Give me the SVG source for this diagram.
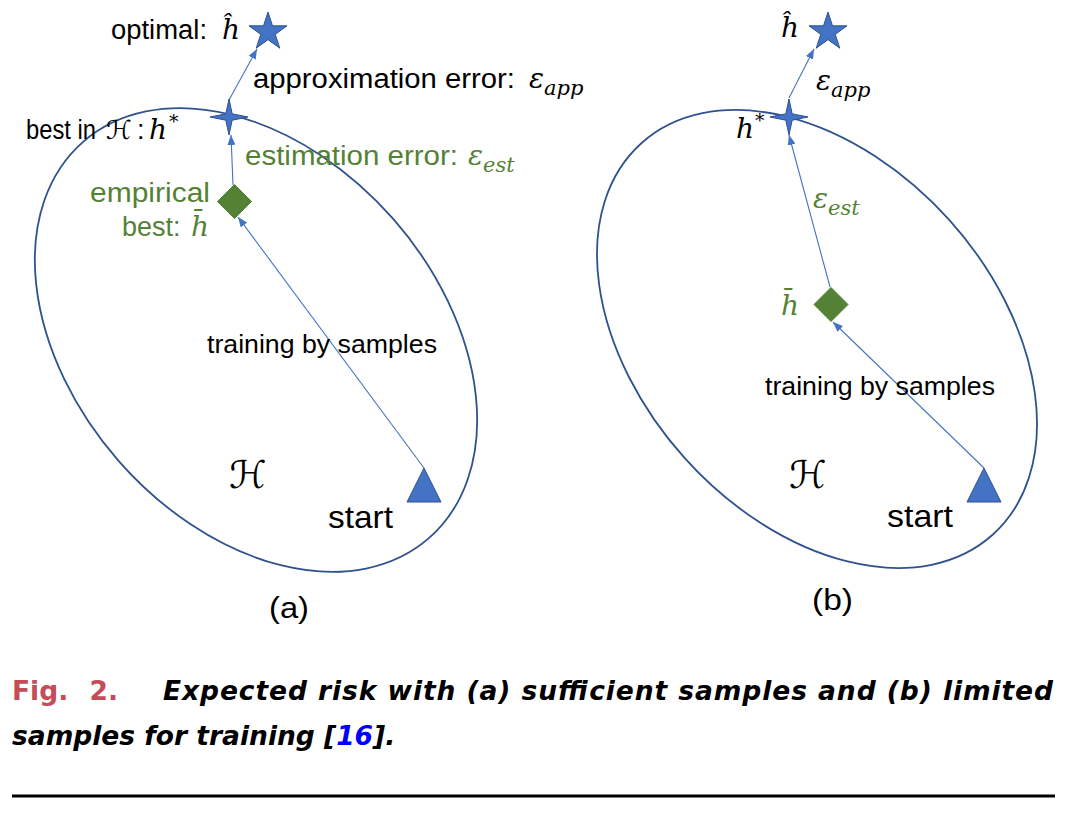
<svg xmlns="http://www.w3.org/2000/svg" width="1080" height="818" viewBox="0 0 1080 818">
<style>
.lbl{font-family:"Liberation Sans",Arial,sans-serif;font-size:27px;fill:#000}
.grn{fill:#548235}
.math{font-family:"DejaVu Serif","Liberation Serif",serif;font-style:italic;font-size:28px}
.sub{font-size:21px}
.scr{font-family:"DejaVu Serif","DejaVu Sans",serif;font-style:italic}
.train{font-family:"Liberation Sans",Arial,sans-serif;font-size:25.5px;fill:#000}
.start{font-family:"Liberation Sans",Arial,sans-serif;font-size:32px;fill:#000}
.cap{font-family:"DejaVu Sans","Verdana",sans-serif;font-weight:bold;font-size:26.5px}
.capi{font-style:italic;fill:#000}
.ell{fill:none;stroke:#2F528F;stroke-width:1.8}
.conn{stroke:#4472C4;stroke-width:1.1;fill:none;marker-end:url(#ah)}
.blue{fill:#4472C4;stroke:#2F528F;stroke-width:1}
.dia{fill:#548235;stroke:#507e32;stroke-width:1}
</style>
<defs>
<marker id="ah" viewBox="0 0 10 8" refX="10" refY="4" markerWidth="10" markerHeight="8" markerUnits="userSpaceOnUse" orient="auto">
<path d="M0,0 L10,4 L0,8 Z" fill="#4472C4"/>
</marker>
<path id="star5" d="M0,-20 L4.49,-6.18 L19.02,-6.18 L7.27,2.36 L11.76,16.18 L0,7.64 L-11.76,16.18 L-7.27,2.36 L-19.02,-6.18 L-4.49,-6.18 Z"/>
<path id="star4" d="M0,-18 L3.2,-3.2 L19,0 L3.2,3.2 L0,18 L-3.2,3.2 L-19,0 L-3.2,-3.2 Z"/>
<path id="dmd" d="M0,-17 L17,0 L0,17 L-17,0 Z"/>
<path id="tri" d="M0,0 L17,34 L-17,34 Z"/>
</defs>
<rect width="1080" height="818" fill="#fff"/>

<!-- panel a -->
<g id="space-a"><ellipse class="ell" cx="256" cy="340" rx="263" ry="183" transform="rotate(48.9 256 340)"/>
<text class="scr" x="229" y="488" style="font-size:38px">ℋ</text></g>

<g id="connectors-a">
<line class="conn" x1="229" y1="100" x2="257" y2="49"/>
<line class="conn" x1="233" y1="185" x2="231" y2="135"/>
<line class="conn" x1="424" y1="468" x2="238" y2="217"/>
</g>

<g id="optimal-a"><use href="#star5" class="blue" transform="translate(268 32)"/>
<text class="lbl" x="111" y="39" textLength="96" lengthAdjust="spacingAndGlyphs">optimal:</text>
<text class="math" x="222" y="39">ĥ</text></g>
<text class="lbl" x="253" y="88" textLength="262" lengthAdjust="spacingAndGlyphs">approximation error:</text>
<text class="math" x="529" y="88">ε<tspan class="sub" dy="7">app</tspan></text>

<g id="best-a"><use href="#star4" class="blue" transform="translate(229 117)"/>
<text class="lbl" x="26" y="139" textLength="70" lengthAdjust="spacingAndGlyphs">best in</text>
<text class="scr" x="106" y="139" style="font-size:26px">ℋ</text>
<text class="lbl" x="137" y="139">:</text>
<text class="math" x="149" y="139">h</text>
<text class="math" x="169" y="128" style="font-size:19px">*</text></g>

<text class="lbl grn" x="245" y="165" textLength="213" lengthAdjust="spacingAndGlyphs">estimation error:</text>
<text class="math grn" x="468" y="165">ε<tspan class="sub" dy="7">est</tspan></text>

<g id="empirical-a"><use href="#dmd" class="dia" transform="translate(234.5 201.5)"/>
<text class="lbl grn" x="90" y="202" textLength="120" lengthAdjust="spacingAndGlyphs">empirical</text>
<text class="lbl grn" x="122" y="236">best:</text>
<text class="math grn" x="191" y="236">h̄</text></g>

<text class="train" x="207" y="353" textLength="230" lengthAdjust="spacingAndGlyphs">training by samples</text>

<g id="start-a"><use href="#tri" class="blue" transform="translate(424 468)"/>
<text class="start" x="328" y="528" textLength="65" lengthAdjust="spacingAndGlyphs">start</text></g>
<text class="lbl" x="269" y="618" style="font-size:30px" textLength="40" lengthAdjust="spacingAndGlyphs">(a)</text>

<!-- panel b -->
<g id="space-b"><ellipse class="ell" cx="817" cy="339" rx="263" ry="178" transform="rotate(48.1 817 339)"/>
<text class="scr" x="789" y="488" style="font-size:38px">ℋ</text></g>

<g id="connectors-b">
<line class="conn" x1="789" y1="98" x2="814" y2="49"/>
<line class="conn" x1="830" y1="287" x2="789" y2="135"/>
<line class="conn" x1="984" y1="468" x2="833" y2="322"/>
</g>

<g id="optimal-b"><use href="#star5" class="blue" transform="translate(828 32)"/>
<text class="math" x="781" y="37">ĥ</text></g>
<text class="math" x="816" y="90">ε<tspan class="sub" dy="7">app</tspan></text>

<g id="best-b"><use href="#star4" class="blue" transform="translate(789 117)"/>
<text class="math" x="736" y="138">h</text>
<text class="math" x="755" y="127" style="font-size:19px">*</text></g>

<text class="math grn" x="813" y="208">ε<tspan class="sub" dy="7">est</tspan></text>

<g id="empirical-b"><use href="#dmd" class="dia" transform="translate(831 304.5)"/>
<text class="math grn" x="781" y="315">h̄</text></g>

<text class="train" x="765" y="395" textLength="230" lengthAdjust="spacingAndGlyphs">training by samples</text>

<g id="start-b"><use href="#tri" class="blue" transform="translate(984 468)"/>
<text class="start" x="887" y="527" textLength="66" lengthAdjust="spacingAndGlyphs">start</text></g>
<text class="lbl" x="812" y="610" style="font-size:30px" textLength="41" lengthAdjust="spacingAndGlyphs">(b)</text>

<!-- caption -->
<text class="cap" x="12" y="700" fill="#c44d58" word-spacing="12" font-size="28">Fig. 2.</text>
<text class="cap capi" x="163" y="700" textLength="890" lengthAdjust="spacing">Expected risk with (a) sufficient samples and (b) limited</text>
<text class="cap capi" x="12" y="745">samples for training [<tspan fill="#0000ff">16</tspan>].</text>
<line x1="12" y1="796" x2="1055" y2="796" stroke="#000" stroke-width="3"/>
</svg>
